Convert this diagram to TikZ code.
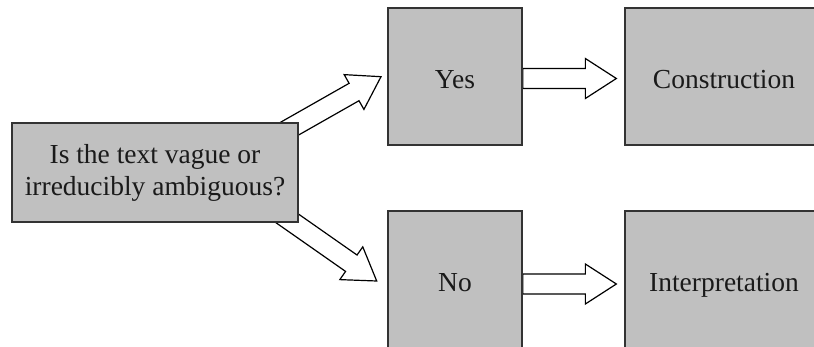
\documentclass[tikz,border=0pt]{standalone}
\usepackage{fontspec}
\setmainfont{Liberation Serif}
\usetikzlibrary{calc}
\pgfdeclarelayer{bg}
\pgfsetlayers{bg,main}
\definecolor{boxgray}{HTML}{C0C0C0}
\definecolor{boxline}{HTML}{333333}
\definecolor{txt}{HTML}{1A1A1A}
\tikzset{
  box/.style={draw=boxline, fill=boxgray, line width=1.3pt, inner sep=0pt, text=txt,
    font=\fontsize{27.5}{32}\selectfont, align=center},
  tallbox/.style={box, text height=25pt, text depth=0pt, minimum height=137pt},
  barrow/.style={draw=black, fill=white, line width=1.2pt, line join=miter},
}
\newcommand\blockarrow[2]{%
  \coordinate (#1-hb) at ($(#2)!31pt!(#1)$);
  \draw[barrow] ($(#1)!10pt!90:(#2)$) -- ($(#1-hb)!10pt!90:(#2)$) -- ($(#1-hb)!20pt!90:(#2)$)
    -- (#2) -- ($(#1-hb)!20pt!-90:(#2)$) -- ($(#1-hb)!10pt!-90:(#2)$)
    -- ($(#1)!10pt!-90:(#2)$) -- cycle;}
\begin{document}
\begin{tikzpicture}[x=1pt,y=-1pt]
  \useasboundingbox (0,0) rectangle (814,347);
  \clip (0,0) rectangle (814,347);
  \node[box, minimum width=286pt, minimum height=99pt] (q) at (155,172.5)
    {Is the text vague or\\irreducibly ambiguous?};
  \node[tallbox, minimum width=134pt] (yes) at (455,76.5) {Yes};
  \node[tallbox, minimum width=198pt] (con) at (724,76.5) {Construction};
  \node[tallbox, minimum width=134pt] (no) at (455,279.5) {No};
  \node[tallbox, minimum width=198pt] (int) at (724,279.5) {Interpretation};
  % diagonal arrows start hidden behind the question box
  \coordinate (ups) at (250.6,150.8);
  \coordinate (upe) at (381,76.7);
  \coordinate (los) at (253.8,195);
  \coordinate (loe) at (376.7,281);
  \coordinate (ys) at ([yshift=-2pt]yes.east);
  \coordinate (ye) at ([xshift=-8pt,yshift=-2pt]con.west);
  \coordinate (ns) at ([yshift=-4.5pt]no.east);
  \coordinate (ne) at ([xshift=-8pt,yshift=-4.5pt]int.west);
  \begin{pgfonlayer}{bg}
    \blockarrow{ups}{upe}
    \blockarrow{los}{loe}
    \blockarrow{ys}{ye}
    \blockarrow{ns}{ne}
  \end{pgfonlayer}
\end{tikzpicture}
\end{document}
